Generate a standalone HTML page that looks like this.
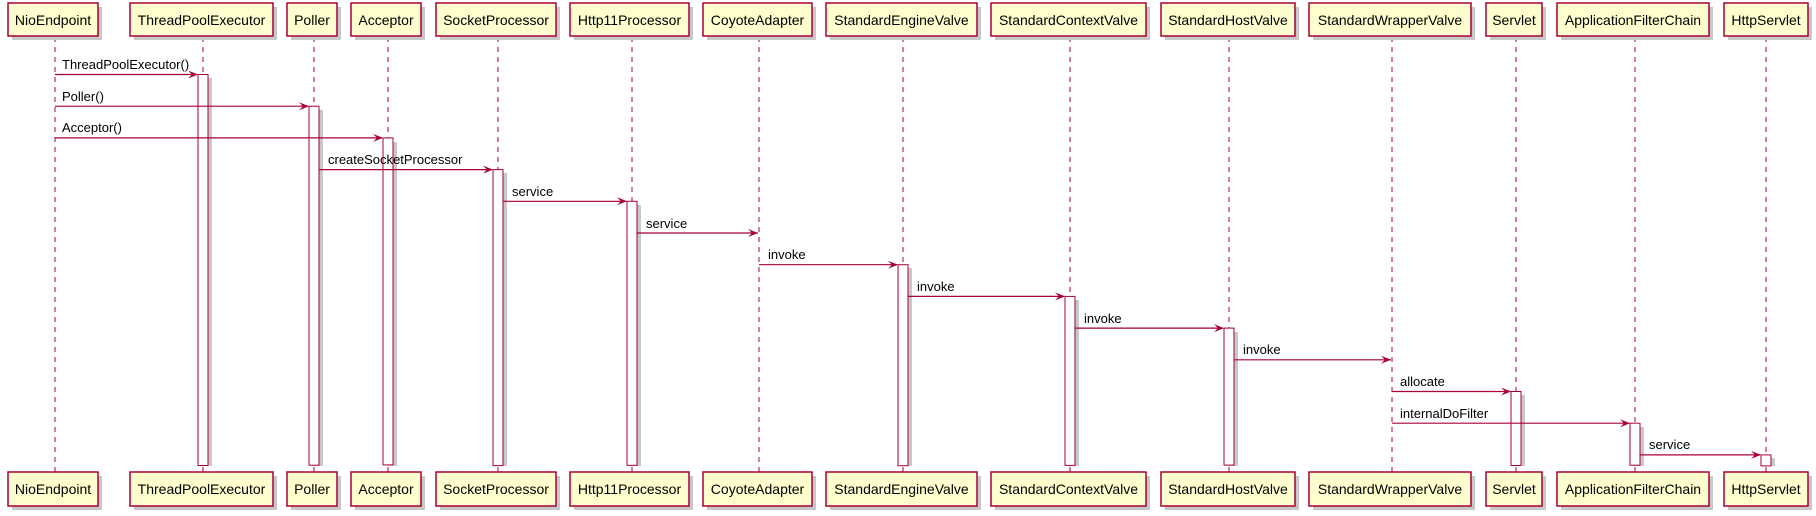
<!DOCTYPE html>
<html><head><meta charset="utf-8"><style>
html,body{margin:0;padding:0;background:#fff;}
svg{display:block;font-family:"Liberation Sans",Arial,sans-serif;}
.b{fill:#FEFECE;stroke:#A80036;stroke-width:1.5;}
.s{fill:#c8c8c8;}
.l{stroke:#A80036;stroke-width:1;stroke-dasharray:5,5;}
.m{stroke:#A80036;stroke-width:1.2;}
.h{fill:#A80036;}
.a{fill:#fff;stroke:#A80036;stroke-width:1;}
.pt{font-size:14px;fill:#000;text-anchor:middle;}
.mt{font-size:13px;fill:#000;}
</style></head><body>
<svg width="1816" height="516" viewBox="0 0 1816 516" xmlns="http://www.w3.org/2000/svg">
<!-- lifelines -->
<g class="l">
<line x1="55" y1="37" x2="55" y2="472"/>
<line x1="203" y1="37" x2="203" y2="472"/>
<line x1="314" y1="37" x2="314" y2="472"/>
<line x1="388" y1="37" x2="388" y2="472"/>
<line x1="498" y1="37" x2="498" y2="472"/>
<line x1="632" y1="37" x2="632" y2="472"/>
<line x1="759" y1="37" x2="759" y2="472"/>
<line x1="903" y1="37" x2="903" y2="472"/>
<line x1="1070" y1="37" x2="1070" y2="472"/>
<line x1="1229" y1="37" x2="1229" y2="472"/>
<line x1="1392" y1="37" x2="1392" y2="472"/>
<line x1="1516" y1="37" x2="1516" y2="472"/>
<line x1="1635" y1="37" x2="1635" y2="472"/>
<line x1="1766" y1="37" x2="1766" y2="472"/>
</g>
<!-- activations (shadow + box) -->
<g>
<rect class="s" x="202" y="78" width="10" height="388"/><rect class="a" x="198" y="74.5" width="10" height="391"/>
<rect class="s" x="313" y="110" width="10" height="356"/><rect class="a" x="309" y="106.2" width="10" height="359"/>
<rect class="s" x="387" y="142" width="10" height="324"/><rect class="a" x="383" y="137.9" width="10" height="327"/>
<rect class="s" x="497" y="173" width="10" height="293"/><rect class="a" x="493" y="169.6" width="10" height="296"/>
<rect class="s" x="631" y="205" width="10" height="261"/><rect class="a" x="627" y="201.3" width="10" height="264"/>
<rect class="s" x="902" y="268" width="10" height="198"/><rect class="a" x="898" y="264.7" width="10" height="201"/>
<rect class="s" x="1069" y="300" width="10" height="166"/><rect class="a" x="1065" y="296.4" width="10" height="169"/>
<rect class="s" x="1228" y="332" width="10" height="134"/><rect class="a" x="1224" y="328.1" width="10" height="137"/>
<rect class="s" x="1515" y="395" width="10" height="71"/><rect class="a" x="1511" y="391.5" width="10" height="74"/>
<rect class="s" x="1634" y="427" width="10" height="39"/><rect class="a" x="1630" y="423.2" width="10" height="42"/>
<rect class="s" x="1765" y="458" width="10" height="8"/><rect class="a" x="1761" y="454.9" width="10" height="11"/>
</g>
<!-- messages -->
<g>
<line class="m" x1="55" y1="74.5" x2="197" y2="74.5"/><polygon class="h" points="188,70.5 198,74.5 188,78.5 192,74.5"/><text class="mt" x="62" y="69">ThreadPoolExecutor()</text>
<line class="m" x1="55" y1="106.2" x2="308" y2="106.2"/><polygon class="h" points="299,102.2 309,106.2 299,110.2 303,106.2"/><text class="mt" x="62" y="101">Poller()</text>
<line class="m" x1="55" y1="137.9" x2="382" y2="137.9"/><polygon class="h" points="373,133.9 383,137.9 373,141.9 377,137.9"/><text class="mt" x="62" y="132">Acceptor()</text>
<line class="m" x1="319" y1="169.6" x2="492" y2="169.6"/><polygon class="h" points="483,165.6 493,169.6 483,173.6 487,169.6"/><text class="mt" x="328" y="164">createSocketProcessor</text>
<line class="m" x1="503" y1="201.3" x2="626" y2="201.3"/><polygon class="h" points="617,197.3 627,201.3 617,205.3 621,201.3"/><text class="mt" x="512" y="196">service</text>
<line class="m" x1="637" y1="233" x2="758" y2="233"/><polygon class="h" points="748,229 758,233 748,237 752,233"/><text class="mt" x="646" y="228">service</text>
<line class="m" x1="759" y1="264.7" x2="897" y2="264.7"/><polygon class="h" points="888,260.7 898,264.7 888,268.7 892,264.7"/><text class="mt" x="768" y="259">invoke</text>
<line class="m" x1="908" y1="296.4" x2="1064" y2="296.4"/><polygon class="h" points="1055,292.4 1065,296.4 1055,300.4 1059,296.4"/><text class="mt" x="917" y="291">invoke</text>
<line class="m" x1="1075" y1="328.1" x2="1223" y2="328.1"/><polygon class="h" points="1214,324.1 1224,328.1 1214,332.1 1218,328.1"/><text class="mt" x="1084" y="323">invoke</text>
<line class="m" x1="1234" y1="359.8" x2="1391" y2="359.8"/><polygon class="h" points="1381,355.8 1391,359.8 1381,363.8 1385,359.8"/><text class="mt" x="1243" y="354">invoke</text>
<line class="m" x1="1392" y1="391.5" x2="1510" y2="391.5"/><polygon class="h" points="1501,387.5 1511,391.5 1501,395.5 1505,391.5"/><text class="mt" x="1400" y="386">allocate</text>
<line class="m" x1="1392" y1="423.2" x2="1629" y2="423.2"/><polygon class="h" points="1620,419.2 1630,423.2 1620,427.2 1624,423.2"/><text class="mt" x="1400" y="418">internalDoFilter</text>
<line class="m" x1="1640" y1="454.9" x2="1760" y2="454.9"/><polygon class="h" points="1751,450.9 1761,454.9 1751,458.9 1755,454.9"/><text class="mt" x="1649" y="449">service</text>
</g>
<!-- participant boxes top & bottom -->
<g>
<rect class="s" x="12" y="7" width="90" height="33"/><rect class="b" x="8" y="3" width="90" height="33"/><text class="pt" x="53" y="25">NioEndpoint</text>
<rect class="s" x="134" y="7" width="143" height="33"/><rect class="b" x="130" y="3" width="143" height="33"/><text class="pt" x="201.5" y="25">ThreadPoolExecutor</text>
<rect class="s" x="291" y="7" width="50" height="33"/><rect class="b" x="287" y="3" width="50" height="33"/><text class="pt" x="312" y="25">Poller</text>
<rect class="s" x="355" y="7" width="70" height="33"/><rect class="b" x="351" y="3" width="70" height="33"/><text class="pt" x="386" y="25">Acceptor</text>
<rect class="s" x="440" y="7" width="120" height="33"/><rect class="b" x="436" y="3" width="120" height="33"/><text class="pt" x="496" y="25">SocketProcessor</text>
<rect class="s" x="574" y="7" width="119" height="33"/><rect class="b" x="570" y="3" width="119" height="33"/><text class="pt" x="629.5" y="25">Http11Processor</text>
<rect class="s" x="707" y="7" width="109" height="33"/><rect class="b" x="703" y="3" width="109" height="33"/><text class="pt" x="757.5" y="25">CoyoteAdapter</text>
<rect class="s" x="830" y="7" width="151" height="33"/><rect class="b" x="826" y="3" width="151" height="33"/><text class="pt" x="901.5" y="25">StandardEngineValve</text>
<rect class="s" x="995" y="7" width="155" height="33"/><rect class="b" x="991" y="3" width="155" height="33"/><text class="pt" x="1068.5" y="25">StandardContextValve</text>
<rect class="s" x="1165" y="7" width="134" height="33"/><rect class="b" x="1161" y="3" width="134" height="33"/><text class="pt" x="1228" y="25">StandardHostValve</text>
<rect class="s" x="1313" y="7" width="162" height="33"/><rect class="b" x="1309" y="3" width="162" height="33"/><text class="pt" x="1390" y="25">StandardWrapperValve</text>
<rect class="s" x="1490" y="7" width="56" height="33"/><rect class="b" x="1486" y="3" width="56" height="33"/><text class="pt" x="1514" y="25">Servlet</text>
<rect class="s" x="1561" y="7" width="152" height="33"/><rect class="b" x="1557" y="3" width="152" height="33"/><text class="pt" x="1633" y="25">ApplicationFilterChain</text>
<rect class="s" x="1728" y="7" width="84" height="33"/><rect class="b" x="1724" y="3" width="84" height="33"/><text class="pt" x="1766" y="25">HttpServlet</text>

<rect class="s" x="12" y="476" width="90" height="34"/><rect class="b" x="8" y="472" width="90" height="34"/><text class="pt" x="53" y="494">NioEndpoint</text>
<rect class="s" x="134" y="476" width="143" height="34"/><rect class="b" x="130" y="472" width="143" height="34"/><text class="pt" x="201.5" y="494">ThreadPoolExecutor</text>
<rect class="s" x="291" y="476" width="50" height="34"/><rect class="b" x="287" y="472" width="50" height="34"/><text class="pt" x="312" y="494">Poller</text>
<rect class="s" x="355" y="476" width="70" height="34"/><rect class="b" x="351" y="472" width="70" height="34"/><text class="pt" x="386" y="494">Acceptor</text>
<rect class="s" x="440" y="476" width="120" height="34"/><rect class="b" x="436" y="472" width="120" height="34"/><text class="pt" x="496" y="494">SocketProcessor</text>
<rect class="s" x="574" y="476" width="119" height="34"/><rect class="b" x="570" y="472" width="119" height="34"/><text class="pt" x="629.5" y="494">Http11Processor</text>
<rect class="s" x="707" y="476" width="109" height="34"/><rect class="b" x="703" y="472" width="109" height="34"/><text class="pt" x="757.5" y="494">CoyoteAdapter</text>
<rect class="s" x="830" y="476" width="151" height="34"/><rect class="b" x="826" y="472" width="151" height="34"/><text class="pt" x="901.5" y="494">StandardEngineValve</text>
<rect class="s" x="995" y="476" width="155" height="34"/><rect class="b" x="991" y="472" width="155" height="34"/><text class="pt" x="1068.5" y="494">StandardContextValve</text>
<rect class="s" x="1165" y="476" width="134" height="34"/><rect class="b" x="1161" y="472" width="134" height="34"/><text class="pt" x="1228" y="494">StandardHostValve</text>
<rect class="s" x="1313" y="476" width="162" height="34"/><rect class="b" x="1309" y="472" width="162" height="34"/><text class="pt" x="1390" y="494">StandardWrapperValve</text>
<rect class="s" x="1490" y="476" width="56" height="34"/><rect class="b" x="1486" y="472" width="56" height="34"/><text class="pt" x="1514" y="494">Servlet</text>
<rect class="s" x="1561" y="476" width="152" height="34"/><rect class="b" x="1557" y="472" width="152" height="34"/><text class="pt" x="1633" y="494">ApplicationFilterChain</text>
<rect class="s" x="1728" y="476" width="84" height="34"/><rect class="b" x="1724" y="472" width="84" height="34"/><text class="pt" x="1766" y="494">HttpServlet</text>
</g>
</svg>
</body></html>
